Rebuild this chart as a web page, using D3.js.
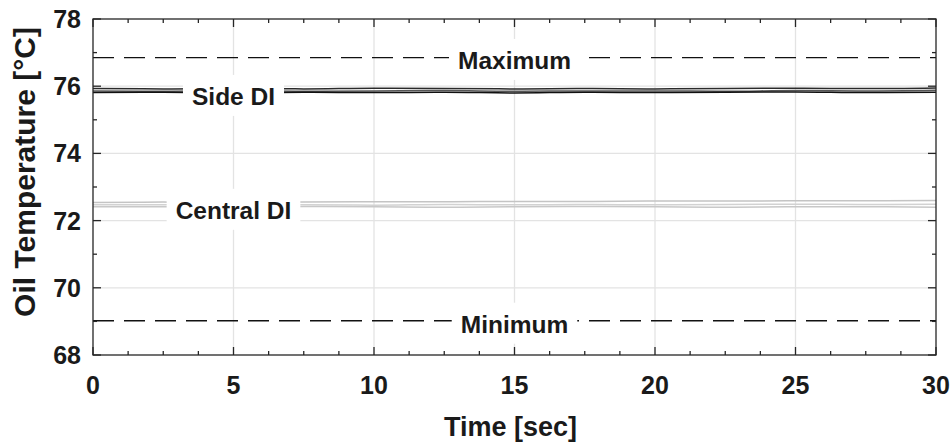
<!DOCTYPE html>
<html>
<head>
<meta charset="utf-8">
<script src="https://cdn.jsdelivr.net/npm/d3@7/dist/d3.min.js"></script>
<style>
  body { margin: 0; background: #fff; }
  text { font-family: "Liberation Sans", Arial, sans-serif; font-weight: bold; fill: #1a1a1a; }
</style>
</head>
<body>
<div id="grafico"></div>
<script>
// datos
var timeSec = [0, 2.5, 5, 7.5, 10, 12.5, 15, 17.5, 20, 22.5, 25, 27.5, 30];

var sideDI1 = [75.93, 75.92, 75.93, 75.92, 75.94, 75.93, 75.92, 75.93, 75.92, 75.93, 75.94, 75.93, 75.95];
var sideDI2 = [75.86, 75.85, 75.86, 75.85, 75.86, 75.87, 75.85, 75.86, 75.86, 75.85, 75.87, 75.86, 75.88];
var sideDI3 = [75.81, 75.82, 75.80, 75.82, 75.81, 75.82, 75.80, 75.82, 75.81, 75.82, 75.83, 75.81, 75.82];

var centralDI1 = [72.54, 72.55, 72.54, 72.55, 72.56, 72.56, 72.57, 72.57, 72.58, 72.58, 72.59, 72.59, 72.60];
var centralDI2 = [72.47, 72.47, 72.48, 72.47, 72.46, 72.48, 72.47, 72.48, 72.47, 72.48, 72.49, 72.48, 72.49];
var centralDI3 = [72.41, 72.41, 72.40, 72.42, 72.41, 72.40, 72.41, 72.42, 72.41, 72.40, 72.41, 72.41, 72.40];

var maxTemp = 76.85,
    minTemp = 69.02;

var xTicks = [0, 5, 10, 15, 20, 25, 30],
    yTicks = [68, 70, 72, 74, 76, 78];

// etiquetas: texto, x, y (en unidades de datos)
var labelText = ["Maximum", "Side DI", "Central DI", "Minimum"],
    labelX = [15, 5, 5, 15],
    labelY = [76.93, 75.86, 72.47, 69.08];

var margin = {top: 19, right: 15, bottom: 88, left: 93},
    w = 951,
    h = 443;

var svg = d3.select("#grafico")
            .append("svg")
            .attr("width", w)
            .attr("height", h)
            .style("background-color", "white");

var width = w - margin.left - margin.right,
    height = h - margin.top - margin.bottom,
    g = svg.append("g").attr("transform", "translate(" + margin.left + "," + margin.top + ")");

var x = d3.scaleLinear().domain([0, 30]).range([0, width]);
var y = d3.scaleLinear().domain([68, 78]).range([height, 0]);

// rejilla
g.selectAll(".gx").data(xTicks.slice(1, -1)).enter()
  .append("line")
  .attr("x1", d => x(d)).attr("x2", d => x(d))
  .attr("y1", 0).attr("y2", height)
  .attr("stroke", "#e3e3e3").attr("stroke-width", 1.3);
g.selectAll(".gy").data(yTicks.slice(1, -1)).enter()
  .append("line")
  .attr("x1", 0).attr("x2", width)
  .attr("y1", d => y(d)).attr("y2", d => y(d))
  .attr("stroke", "#e3e3e3").attr("stroke-width", 1.3);

// limites
[maxTemp, minTemp].forEach(function(v) {
  g.append("line")
    .attr("x1", 0).attr("x2", width)
    .attr("y1", y(v)).attr("y2", y(v))
    .attr("stroke", "#111").attr("stroke-width", 1.4)
    .attr("stroke-dasharray", "21,10");
});

var line = d3.line()
    .x(function(d, i) { return x(timeSec[i]); })
    .y(function(d) { return y(d); })
    .curve(d3.curveMonotoneX);

var series = [
  {v: centralDI1, c: "#c4c4c4"},
  {v: centralDI2, c: "#d2d2d2"},
  {v: centralDI3, c: "#c8c8c8"},
  {v: sideDI1, c: "#2a2a2a"},
  {v: sideDI2, c: "#555555"},
  {v: sideDI3, c: "#111111"}
];

series.forEach(function(s) {
  g.append("path")
    .datum(s.v)
    .attr("fill", "none")
    .attr("stroke", s.c)
    .attr("stroke-width", 1.5)
    .attr("d", line);
});

// etiquetas con fondo blanco
labelText.forEach(function(t, i) {
  var lg = g.append("g").attr("transform", "translate(" + x(labelX[i]) + "," + y(labelY[i]) + ")");
  var rect = lg.append("rect").attr("fill", "white");
  var txt = lg.append("text")
    .attr("text-anchor", "middle")
    .attr("y", 14)
    .style("font-size", "24.5px")
    .text(t);
  var bb = txt.node().getBBox();
  rect.attr("x", bb.x - 9).attr("y", bb.y - 8)
      .attr("width", bb.width + 18).attr("height", bb.height + 14);
});

// ejes (caja con marcas hacia dentro)
var ax = g.append("g").attr("stroke", "#262626").attr("stroke-width", 1.3);
ax.append("rect").attr("x", 0).attr("y", 0).attr("width", width).attr("height", height)
  .attr("fill", "none");

var xMinor = d3.range(0, 30.01, 1.25),
    yMinor = d3.range(68, 78.01, 1);

xMinor.forEach(function(d) {
  var len = (d % 5 === 0) ? 8 : 4;
  ax.append("line").attr("x1", x(d)).attr("x2", x(d)).attr("y1", height).attr("y2", height - len);
  ax.append("line").attr("x1", x(d)).attr("x2", x(d)).attr("y1", 0).attr("y2", len);
});
yMinor.forEach(function(d) {
  var len = (d % 2 === 0) ? 8 : 4;
  ax.append("line").attr("x1", 0).attr("x2", len).attr("y1", y(d)).attr("y2", y(d));
  ax.append("line").attr("x1", width).attr("x2", width - len).attr("y1", y(d)).attr("y2", y(d));
});

g.selectAll(".xl").data(xTicks).enter()
  .append("text")
  .attr("x", d => x(d)).attr("y", height + 39)
  .attr("text-anchor", "middle")
  .style("font-size", "25px")
  .text(d => d);

g.selectAll(".yl").data(yTicks).enter()
  .append("text")
  .attr("x", -12).attr("y", d => y(d) + 9)
  .attr("text-anchor", "end")
  .style("font-size", "25px")
  .text(d => d);

g.append("text")
  .attr("x", width / 2 - 4).attr("y", height + 81)
  .attr("text-anchor", "middle")
  .style("font-size", "27px")
  .text("Time [sec]");

g.append("text")
  .attr("transform", "translate(-58," + (height / 2 - 15) + ") rotate(-90)")
  .attr("text-anchor", "middle")
  .style("font-size", "30px")
  .text("Oil Temperature [°C]");
</script>
</body>
</html>
